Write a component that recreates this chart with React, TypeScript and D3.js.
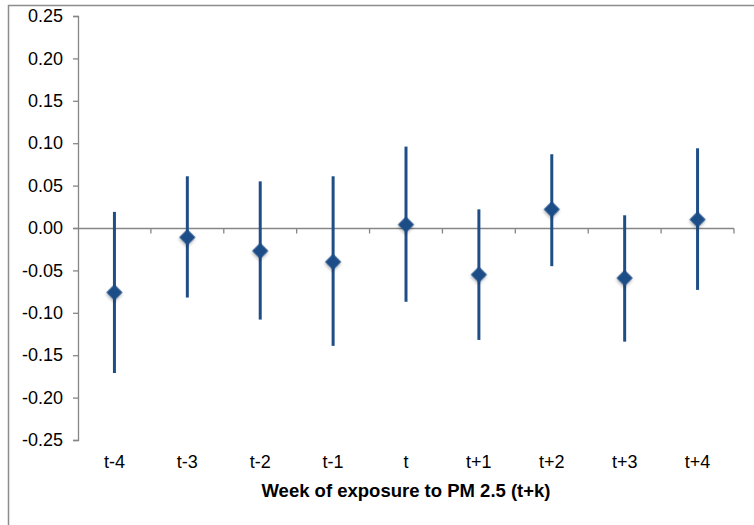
import React, { useEffect, useRef } from 'react';
import * as d3 from 'd3';

// weeks relative to exposure
const weeks = ['t-4', 't-3', 't-2', 't-1', 't', 't+1', 't+2', 't+3', 't+4'];
const estimates = [-0.076, -0.011, -0.027, -0.040, 0.004, -0.055, 0.022, -0.059, 0.010];
const upper = [0.019, 0.061, 0.055, 0.061, 0.096, 0.022, 0.087, 0.015, 0.094];
const lower = [-0.171, -0.082, -0.108, -0.139, -0.087, -0.132, -0.045, -0.134, -0.073];
const yTicks = [-0.25, -0.2, -0.15, -0.1, -0.05, 0, 0.05, 0.1, 0.15, 0.2, 0.25];

const W = 754;
const H = 525;

const App = () => {
  const svgRef = useRef<SVGSVGElement | null>(null);

  useEffect(() => {
    if (!svgRef.current) return;
    const svg = d3.select(svgRef.current);
    svg.selectAll('*').remove();

    const left = 78;
    const right = 734;
    const top = 16;
    const bottom = 440;
    const axisColor = '#868686';
    const markColor = '#1F4E87';
    const font = 'Arial, "Liberation Sans", sans-serif';

    const defs = svg.append('defs');
    const f = defs.append('filter').attr('id', 'shadow')
      .attr('x', '-50%').attr('y', '-50%').attr('width', '200%').attr('height', '200%');
    f.append('feDropShadow').attr('dx', 1).attr('dy', 1.5).attr('stdDeviation', 1.5)
      .attr('flood-color', '#000').attr('flood-opacity', 0.3);

    // outer chart frame (cut by the image edges)
    svg.append('rect')
      .attr('x', 8.5).attr('y', 5.5).attr('width', 800).attr('height', 600)
      .attr('fill', 'none').attr('stroke', '#8c8c8c').attr('stroke-width', 1.5);

    const x = d3.scaleBand().domain(weeks).range([left, right]);
    const y = d3.scaleLinear().domain([-0.25, 0.25]).range([bottom, top]);

    // y axis
    const yAxis = svg.append('g')
      .attr('transform', `translate(${left},0)`)
      .call(d3.axisLeft(y).tickValues(yTicks)
        .tickFormat(d => (d as number).toFixed(2).replace('−', '-'))
        .tickSize(5).tickPadding(10));
    yAxis.select('.domain').attr('stroke', axisColor).attr('stroke-width', 1.3);
    yAxis.selectAll('.tick line').attr('stroke', axisColor).attr('stroke-width', 1.3);
    yAxis.selectAll('.tick text')
      .attr('fill', '#000').style('font-family', font).style('font-size', '18px');

    // zero line with category boundary ticks
    const zy = Math.round(y(0)) + 0.5;
    svg.append('line')
      .attr('x1', left - 5).attr('x2', right).attr('y1', zy).attr('y2', zy)
      .attr('stroke', axisColor).attr('stroke-width', 1.3);
    const bounds = weeks.map(w => (x(w) as number) + x.bandwidth());
    svg.append('g').selectAll('line').data(bounds).enter().append('line')
      .attr('x1', d => d).attr('x2', d => d)
      .attr('y1', zy).attr('y2', zy + 5)
      .attr('stroke', axisColor).attr('stroke-width', 1.3);

    // category labels
    svg.append('g').selectAll('text').data(weeks).enter().append('text')
      .attr('x', d => (x(d) as number) + x.bandwidth() / 2)
      .attr('y', 462)
      .attr('dy', '0.35em')
      .attr('text-anchor', 'middle')
      .style('font-family', font).style('font-size', '18px')
      .text(d => d);

    // axis title
    svg.append('text')
      .attr('x', 406).attr('y', 491).attr('dy', '0.35em')
      .attr('text-anchor', 'middle')
      .style('font-family', font).style('font-size', '18.5px').style('font-weight', 'bold')
      .text('Week of exposure to PM 2.5 (t+k)');

    const cx = (i: number) => (x(weeks[i]) as number) + x.bandwidth() / 2;

    // confidence intervals
    svg.append('g').selectAll('line').data(weeks).enter().append('line')
      .attr('x1', (_, i) => cx(i)).attr('x2', (_, i) => cx(i))
      .attr('y1', (_, i) => y(upper[i])).attr('y2', (_, i) => y(lower[i]))
      .attr('stroke', markColor).attr('stroke-width', 3);

    // point estimates
    const diamond = d3.symbol().type(d3.symbolSquare).size(130);
    svg.append('g').selectAll('path').data(estimates).enter().append('path')
      .attr('d', diamond)
      .attr('transform', (d, i) => `translate(${cx(i)},${y(d)}) rotate(45)`)
      .attr('fill', markColor)
      .attr('filter', 'url(#shadow)');
  }, []);

  return (
    <svg ref={svgRef} width={W} height={H}
      style={{ position: 'absolute', left: 0, top: 0, background: '#fff' }} />
  );
};

export default App;
